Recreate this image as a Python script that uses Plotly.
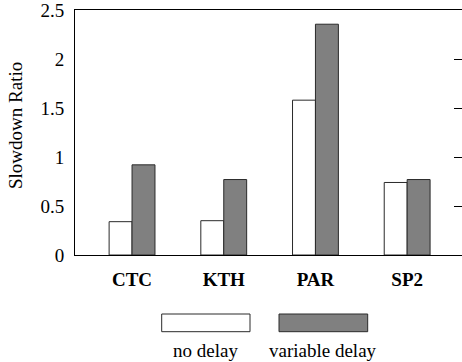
import plotly.graph_objects as go

categories = ["CTC", "KTH", "PAR", "SP2"]
series_names = ["no delay", "variable delay"]
no_delay = [0.34, 0.35, 1.58, 0.74]
variable_delay = [0.92, 0.77, 2.355, 0.77]
y_ticks = [0, 0.5, 1, 1.5, 2, 2.5]
y_tick_labels = ["0", "0.5", "1", "1.5", "2", "2.5"]

colors = ["#ffffff", "#808080"]
edge = "#2a2a2a"
serif = "Liberation Serif"
fs = 19

x = list(range(len(categories)))

fig = go.Figure()
for name, vals, col in zip(series_names, [no_delay, variable_delay], colors):
    fig.add_trace(go.Bar(
        x=x, y=vals, name=name, marker=dict(color=col, line=dict(color=edge, width=1)),
        showlegend=False,
    ))

# invisible trace for right axis ticks
fig.add_trace(go.Scatter(x=[x[0]], y=[0], yaxis="y2", mode="markers",
                         marker=dict(opacity=0), showlegend=False, hoverinfo="skip"))

L, R, T, B = 75, 0, 10, 107
W, H = 462, 362
pw = W - L - R
ph = H - T - B

fig.update_layout(
    width=W, height=H,
    margin=dict(l=L, r=R, t=T, b=B, pad=0),
    paper_bgcolor="white", plot_bgcolor="white",
    barmode="group", bargap=0.5, bargroupgap=0,
    font=dict(family=serif, size=fs, color="black"),
    xaxis=dict(
        range=[-0.622, 3.598], tickmode="array", tickvals=x,
        ticktext=["<b>%s</b>" % c for c in categories],
        showline=True, linecolor="black", linewidth=1, mirror=True,
        ticks="", showgrid=False, zeroline=False,
        tickfont=dict(family=serif, size=fs), ticklabelstandoff=7,
    ),
    yaxis=dict(
        range=[0, 2.5], tickmode="array", tickvals=y_ticks, ticktext=y_tick_labels,
        showline=True, linecolor="black", linewidth=1,
        ticks="", showgrid=False, zeroline=False, ticklabeloverflow="allow",
        tickfont=dict(family=serif, size=fs), ticklabelstandoff=6,
    ),
    yaxis2=dict(
        range=[0, 2.5], overlaying="y", side="right", tickmode="array",
        tickvals=y_ticks, ticks="inside", ticklen=8, tickcolor="black", tickwidth=1,
        showticklabels=False, showline=False, showgrid=False, zeroline=False,
    ),
)

def px_x(p):
    return (p - L) / pw

def px_y(p):
    return (H - B - p) / ph

# y title
fig.add_annotation(text="Slowdown Ratio", xref="paper", yref="paper",
                   x=px_x(15.5), y=px_y(125.5), textangle=-90, showarrow=False,
                   font=dict(family=serif, size=fs), xanchor="center", yanchor="middle")

# custom legend: sample box above label
legend_boxes = [(161.7, 250.0), (279.0, 367.7)]
for name, col, (x0, x1) in zip(series_names, colors, legend_boxes):
    fig.add_shape(type="rect", xref="paper", yref="paper",
                  x0=px_x(x0), x1=px_x(x1), y0=px_y(314), y1=px_y(331.7),
                  fillcolor=col, line=dict(color=edge, width=1))
    fig.add_annotation(text=name, xref="paper", yref="paper",
                       x=px_x((x0 + x1) / 2), y=px_y(350), showarrow=False,
                       font=dict(family=serif, size=fs), xanchor="center", yanchor="middle")

fig.write_html("out.html")
